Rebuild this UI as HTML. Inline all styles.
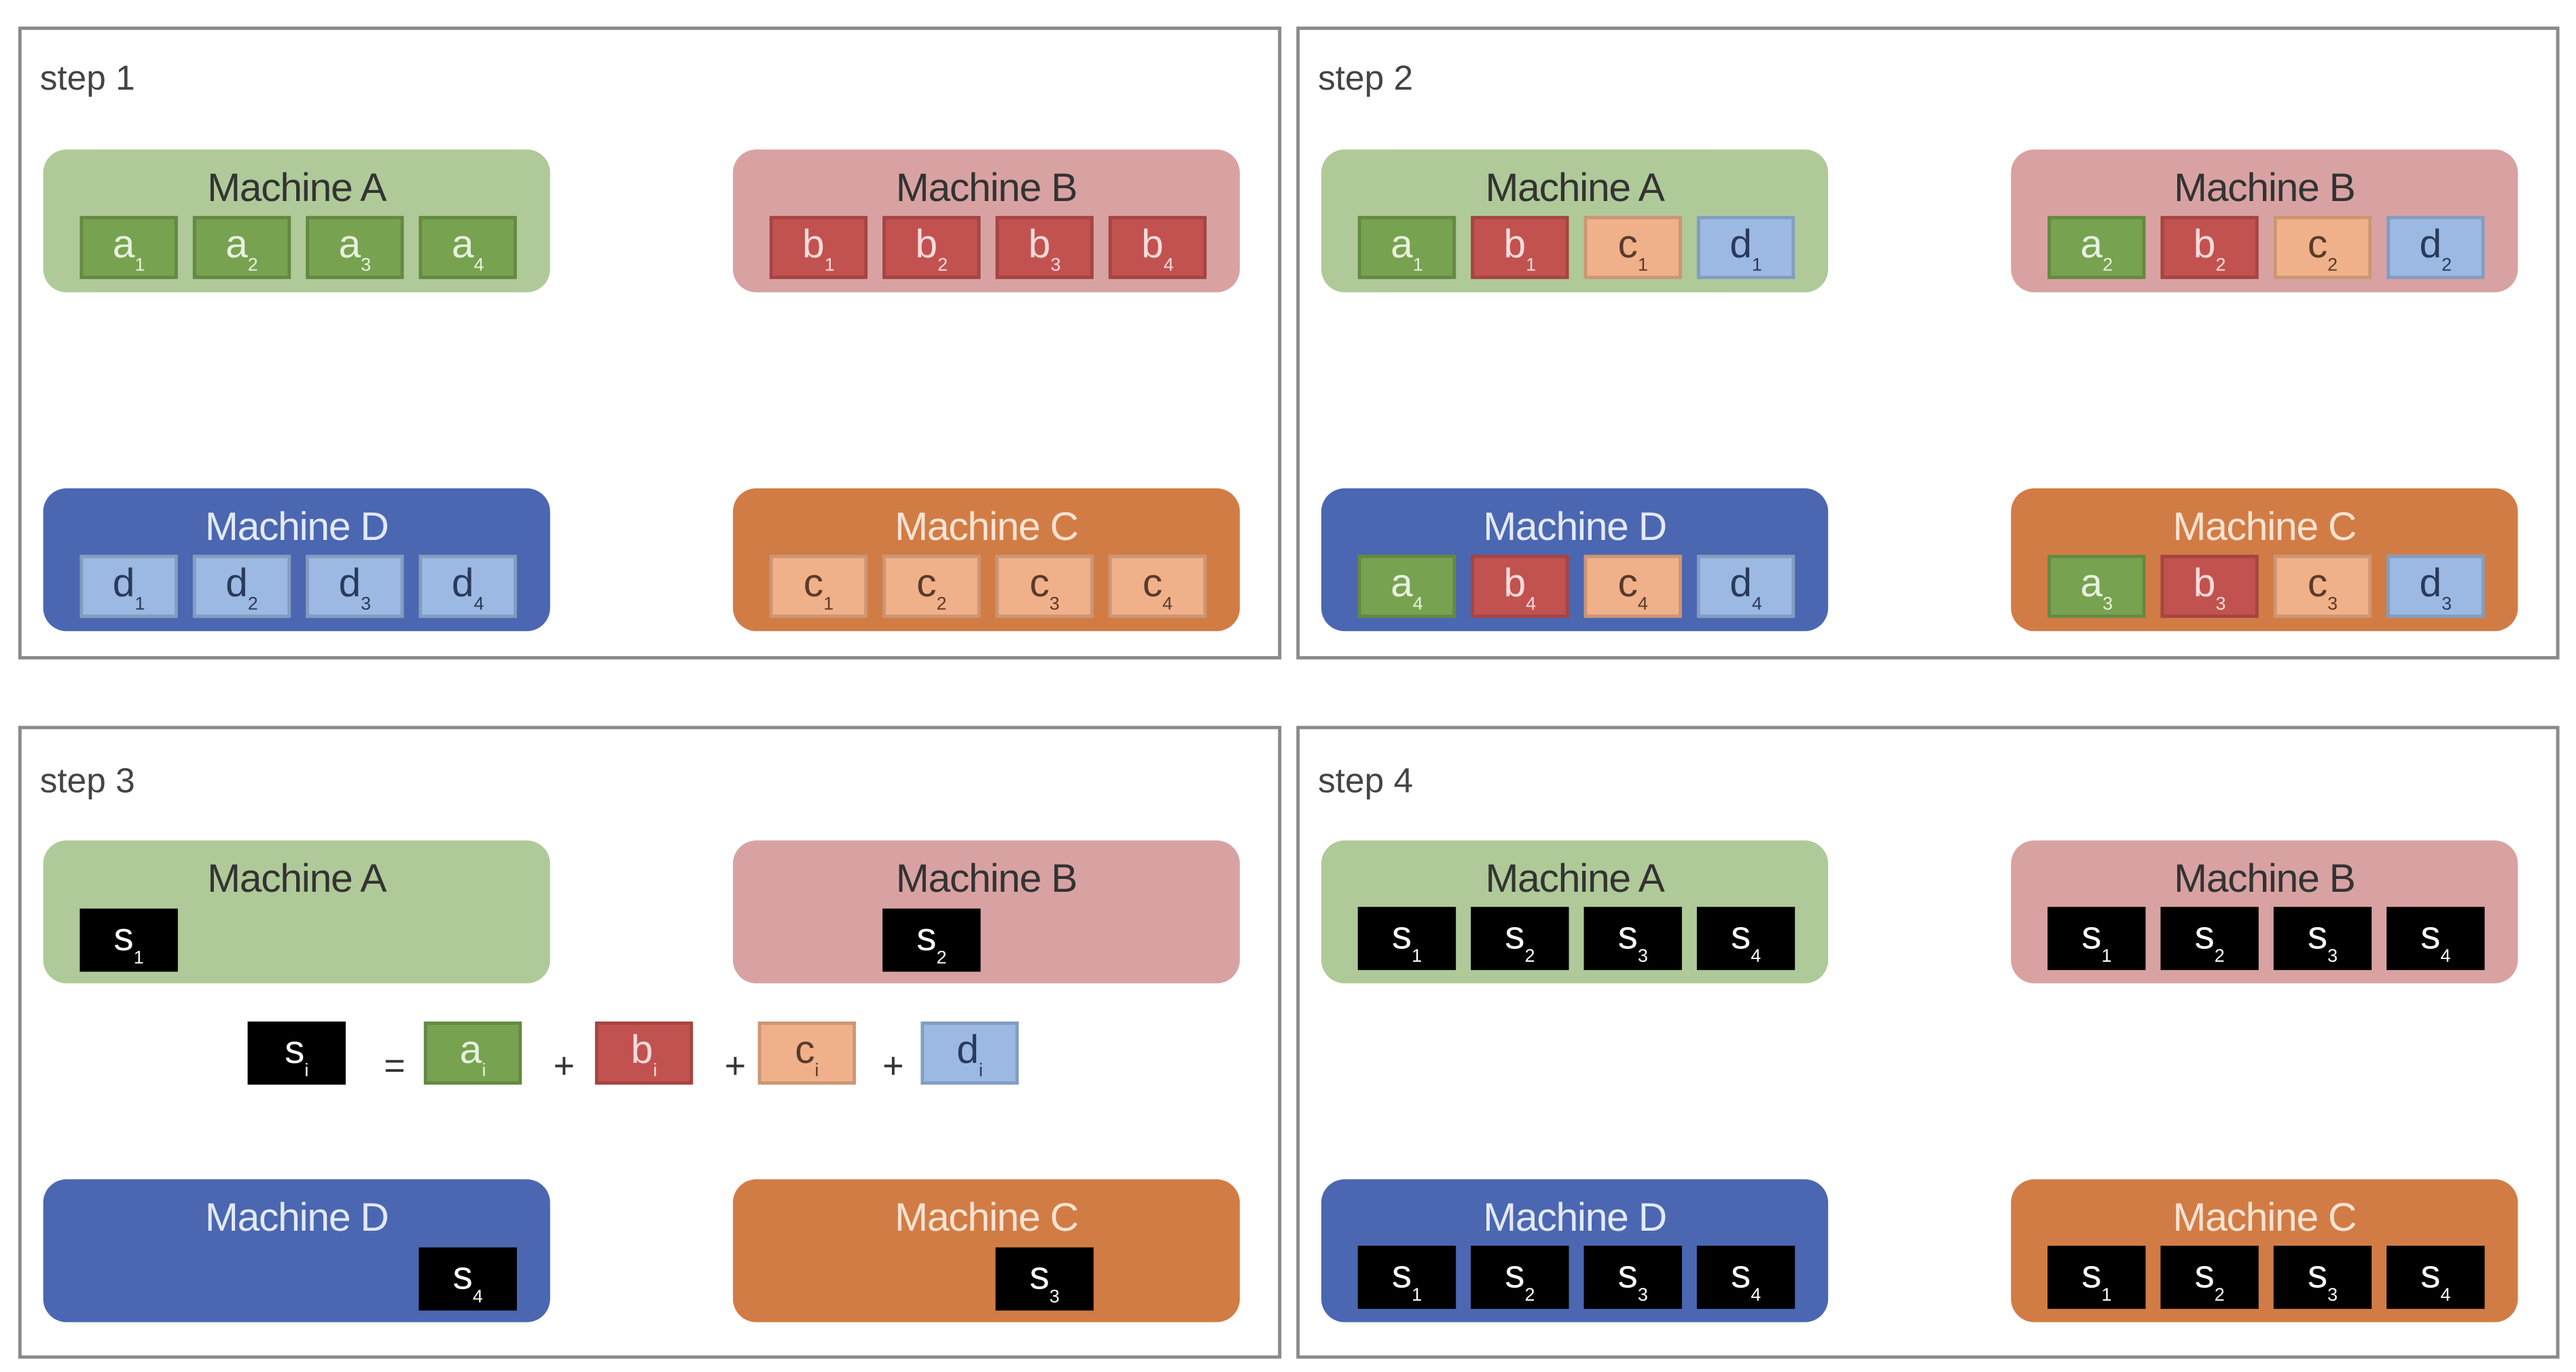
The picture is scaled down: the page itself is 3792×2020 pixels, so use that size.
<!DOCTYPE html>
<html><head><meta charset="utf-8">
<style>
html,body{margin:0;padding:0;background:#fff;overflow:hidden}
#root{position:absolute;left:0;top:0;width:1550px;height:826px;transform-origin:0 0;transform:scale(2.4465,2.4455);font-family:"Liberation Sans",sans-serif}
.panel{position:absolute;border:2px solid #8a8a8a;box-sizing:border-box;background:#fff}
.step{position:absolute;font-size:21px;color:#444}
.machine{position:absolute;width:305px;height:86px;border-radius:14px;box-sizing:border-box}
.mlabel{position:absolute;left:0;right:0;top:10px;text-align:center;font-size:24px;letter-spacing:-0.5px}
.chunk{position:absolute;width:59px;height:38px;box-sizing:border-box;border:2px solid rgba(0,0,0,0.15);color:#fff;font-size:24px;text-align:center;line-height:32px}
.chunk sub{font-size:11px;vertical-align:-8px}
.op{position:absolute;font-size:22px;color:#333}
</style></head>
<body>
<div id="root"></div>
<script>
const machineColors={A:'#afca98',B:'#d9a2a2',C:'#d27c45',D:'#4b67b1'};
const labelColors={A:'#333',B:'#333',C:'#fbe3d4',D:'#e3e9f7'};
const chunkColors={a:'#77a24f',b:'#c2524f',c:'#f0b18a',d:'#9bb9e2',s:'#000'};
const chunkText={a:'#e8f0df',b:'#f6dcdc',c:'#5a3a2a',d:'#2a3a5a',s:'#fff'};
const panels=[{x:11,y:16,label:'step 1'},{x:780,y:16,label:'step 2'},{x:11,y:437,label:'step 3'},{x:780,y:437,label:'step 4'}];
const machinePos={A:[13,72],B:[428,72],D:[13,276],C:[428,276]};
const step1={A:['a1','a2','a3','a4'],B:['b1','b2','b3','b4'],D:['d1','d2','d3','d4'],C:['c1','c2','c3','c4']};
const step2={A:['a1','b1','c1','d1'],B:['a2','b2','c2','d2'],D:['a4','b4','c4','d4'],C:['a3','b3','c3','d3']};
const step3={A:[['s1',0]],B:[['s2',1]],D:[['s4',3]],C:[['s3',2]]};
const step4={A:['s1','s2','s3','s4'],B:['s1','s2','s3','s4'],D:['s1','s2','s3','s4'],C:['s1','s2','s3','s4']};
const root=document.getElementById('root');
function mk(cls,parent){const e=document.createElement('div');e.className=cls;parent.appendChild(e);return e;}
function chunk(parent,id,x,y){
  const c=mk('chunk',parent);
  
  
  c.style.left=x+'px';c.style.top=y+'px';
  c.style.background=chunkColors[id[0]];c.style.color=chunkText[id[0]];
  c.innerHTML=id[0]+'<sub>'+id.slice(1)+'</sub>';
  return c;
}
panels.forEach((p,pi)=>{
  const pd=mk('panel',root);
  
  
  pd.style.left=p.x+'px';pd.style.top=p.y+'px';pd.style.width='760px';pd.style.height='381px';
  const st=mk('step',pd);
  
  
  st.style.left='11px';st.style.top=(pi<2?18:20)+'px';st.textContent=p.label;
  const yoff=pi<2?0:-5;
  ['A','B','D','C'].forEach(m=>{
    const md=mk('machine',pd);
    
    
    md.style.left=machinePos[m][0]+'px';md.style.top=(machinePos[m][1]+yoff)+'px';
    md.style.background=machineColors[m];
    const lb=mk('mlabel',md);
    
    
    lb.style.color=labelColors[m];lb.textContent='Machine '+m;
    if(pi===0||pi===1||pi===3){
      const list=[step1,step2,null,step4][pi][m];
      list.forEach((id,i)=>chunk(md,id,22+i*68,40));
    } else {
      step3[m].forEach(([id,slot])=>chunk(md,id,22+slot*68,41));
    }
  });
});
// equation in step 3
const eq=root.children[2];
const eqItems=[['s','i',136],['a','i',242],['b','i',345],['c','i',443],['d','i',541]];
const ops=[['=',218],['+',320],['+',423],['+',518]];
eqItems.forEach(([l,s,x])=>chunk(eq,l+s,x,176));
ops.forEach(([o,x])=>{const e=mk('op',eq);e.style.left=x+'px';e.style.top='190px';e.textContent=o;});
</script>
</body></html>
